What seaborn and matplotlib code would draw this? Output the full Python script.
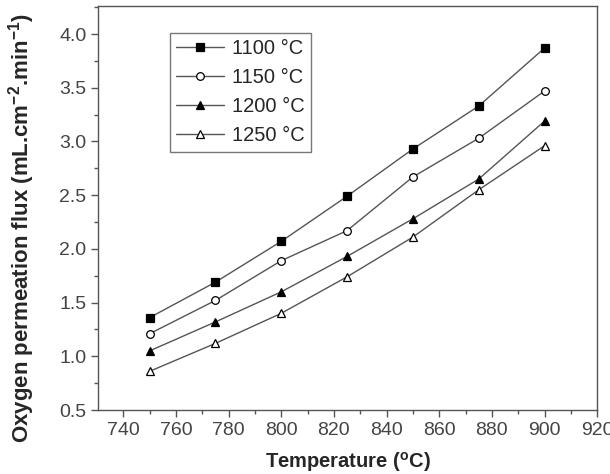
import numpy as np
import pandas as pd
import seaborn as sns
import matplotlib.pyplot as plt
from matplotlib.ticker import MultipleLocator

# %% Data

temperature = [750, 775, 800, 825, 850, 875, 900]
flux_1100 = [1.36, 1.69, 2.07, 2.49, 2.93, 3.33, 3.87]
flux_1150 = [1.21, 1.52, 1.89, 2.17, 2.67, 3.03, 3.47]
flux_1200 = [1.05, 1.32, 1.60, 1.93, 2.28, 2.65, 3.19]
flux_1250 = [0.86, 1.12, 1.40, 1.74, 2.11, 2.55, 2.96]

lst_names = ['1100 °C', '1150 °C', '1200 °C', '1250 °C']
lst_flux = [flux_1100, flux_1150, flux_1200, flux_1250]

# marker shape and face colour for each sintering temperature
lst_markers = ['s', 'o', '^', '^']
lst_faces = ['black', 'white', 'black', 'white']

# %% Plot

sns.set_style('ticks')
plt.rcParams['font.family'] = ['Liberation Sans', 'DejaVu Sans']
plt.rcParams['mathtext.fontset'] = 'custom'
plt.rcParams['mathtext.rm'] = 'Liberation Sans'
plt.rcParams['mathtext.bf'] = 'Liberation Sans:bold'

fig = plt.figure(figsize=(6.10, 4.74), dpi=100)
ax = fig.add_axes([0.161, 0.135, 0.818, 0.852])

for ind in range(len(lst_names)):
    df = pd.DataFrame({'T': temperature, 'flux': lst_flux[ind]})
    sns.lineplot(data=df, x='T', y='flux', ax=ax, color='#555555',
                 linewidth=1.0, marker=lst_markers[ind], markersize=5.5,
                 markerfacecolor=lst_faces[ind], markeredgecolor='black',
                 markeredgewidth=0.9, label=lst_names[ind])

ax.set_xlim(730.5, 920)
ax.set_ylim(0.5, 4.26)
ax.xaxis.set_major_locator(MultipleLocator(20))
ax.xaxis.set_minor_locator(MultipleLocator(10))
ax.yaxis.set_major_locator(MultipleLocator(0.5))
ax.yaxis.set_minor_locator(MultipleLocator(0.25))
ax.yaxis.set_major_formatter(plt.FormatStrFormatter('%.1f'))

ax.tick_params(which='major', direction='out', length=5, width=1,
               labelsize=14, labelcolor='#444444', color='#555555')
ax.tick_params(which='minor', direction='out', length=3, width=1,
               color='#555555')
for sp in ax.spines.values():
    sp.set_color('#555555')
    sp.set_linewidth(1.0)

ax.set_xlabel('Temperature ($^{\\mathregular{o}}$C)', fontsize=14.5,
              fontweight='bold')
ax.xaxis.set_label_coords(0.5, -0.098)
ax.set_ylabel('Oxygen permeation flux (mL.cm$^{\\mathbf{-2}}$.min$^{\\mathbf{-1}}$)',
              fontsize=16, fontweight='bold')
ax.yaxis.set_label_coords(-0.122, 0.45)

leg = ax.legend(loc='upper left', bbox_to_anchor=(0.144, 0.933),
                fontsize=14.5, frameon=True, fancybox=False,
                handlelength=2.4, borderpad=0.3, labelspacing=0.5,
                handletextpad=0.4, borderaxespad=0)
leg.get_frame().set_edgecolor('#555555')
leg.get_frame().set_linewidth(1.0)

fig.savefig('out.png', dpi=100)
